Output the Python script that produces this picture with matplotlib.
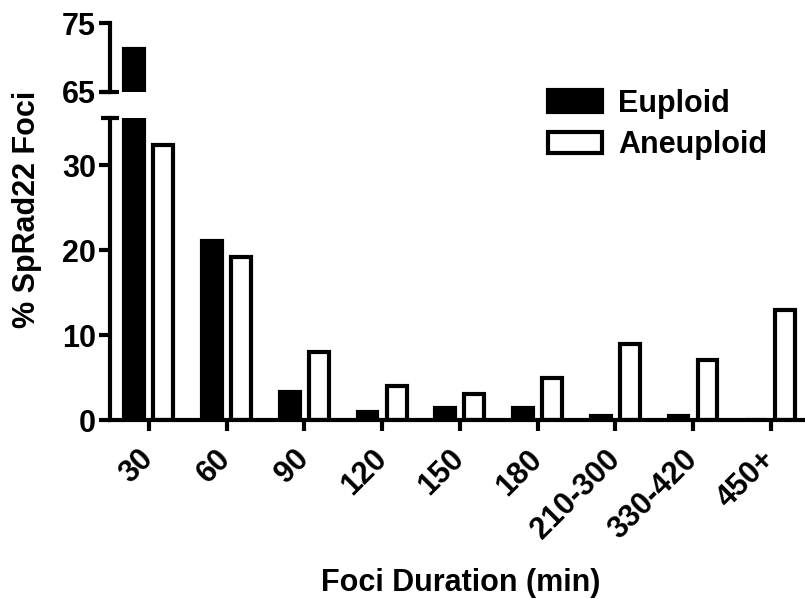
import matplotlib
matplotlib.use("Agg")
import matplotlib.pyplot as plt
from matplotlib.patches import Patch

plt.rcParams["font.family"] = ["Liberation Sans", "DejaVu Sans"]
plt.rcParams["font.weight"] = "bold"

# ── Data ──────────────────────────────────────────────────
durations = ["30", "60", "90", "120", "150", "180", "210-300", "330-420", "450+"]
euploid   = [71.2, 21.1, 3.3, 1.0, 1.4, 1.4, 0.5, 0.5, 0.0]
aneuploid = [32.3, 19.2, 8.0, 4.0, 3.1, 5.0, 9.0, 7.1, 13.0]

lower_ticks = [0, 10, 20, 30]
upper_ticks = [65, 75]

FS  = 22
LW  = 3.0
W   = 0.255
OFF = 0.187

fig = plt.figure(figsize=(8.05, 5.99), dpi=100)
ax_lo = fig.add_axes([0.1366, 0.2988, 0.8634, 0.5037])
ax_hi = fig.add_axes([0.1366, 0.8469, 0.8634, 0.1142])

x = list(range(len(durations)))
xe = [i - OFF for i in x]
xa = [i + OFF for i in x]

for ax in (ax_lo, ax_hi):
    ax.bar(xe, euploid, width=W, color="black", edgecolor="black",
           linewidth=LW, label="Euploid")
    ax.bar(xa, aneuploid, width=W, color="white", edgecolor="black",
           linewidth=LW, label="Aneuploid")
    ax.set_xlim(-0.5, 8.44)
    for s in ("top", "right"):
        ax.spines[s].set_visible(False)
    ax.spines["left"].set_linewidth(LW)
    ax.spines["bottom"].set_linewidth(LW)
    ax.tick_params(axis="y", length=8, width=LW, pad=2, labelsize=FS)

# lower segment
ax_lo.set_ylim(0, 35.5)
ax_lo.set_yticks(lower_ticks)
ax_lo.set_xticks(x)
ax_lo.set_xticklabels(durations, rotation=45, ha="right", va="center",
                      rotation_mode="anchor", fontsize=FS, fontweight="bold")
ax_lo.tick_params(axis="x", length=8, width=LW, pad=17)
ax_lo.set_xlabel("Foci Duration (min)", fontsize=FS, fontweight="bold")
ax_lo.xaxis.set_label_coords(0.504, -0.49)

fig.text(0.033, 0.651, "% SpRad22 Foci", rotation=90, ha="center",
         va="center", fontsize=FS, fontweight="bold")

# upper segment
ax_hi.set_ylim(65, 75)
ax_hi.set_yticks(upper_ticks)
ax_hi.set_xticks([])
ax_hi.spines["bottom"].set_visible(False)

# break caps
cap = 0.0135
ax_hi.plot([-cap, cap], [0, 0], transform=ax_hi.transAxes, color="black",
           lw=LW, clip_on=False, solid_capstyle="butt")
ax_lo.plot([-cap, cap], [1, 1], transform=ax_lo.transAxes, color="black",
           lw=LW, clip_on=False, solid_capstyle="butt")

# legend
handles = [Patch(facecolor="black", edgecolor="black", linewidth=LW),
           Patch(facecolor="white", edgecolor="black", linewidth=LW)]
fig.legend(handles, ["Euploid", "Aneuploid"], loc="upper left",
           bbox_to_anchor=(0.681, 0.852), frameon=False,
           handlelength=1.75, handleheight=0.7, handletextpad=0.55,
           labelspacing=0.38, borderpad=0, borderaxespad=0,
           prop={"weight": "bold", "size": FS})

fig.savefig("out.png", dpi=100)
